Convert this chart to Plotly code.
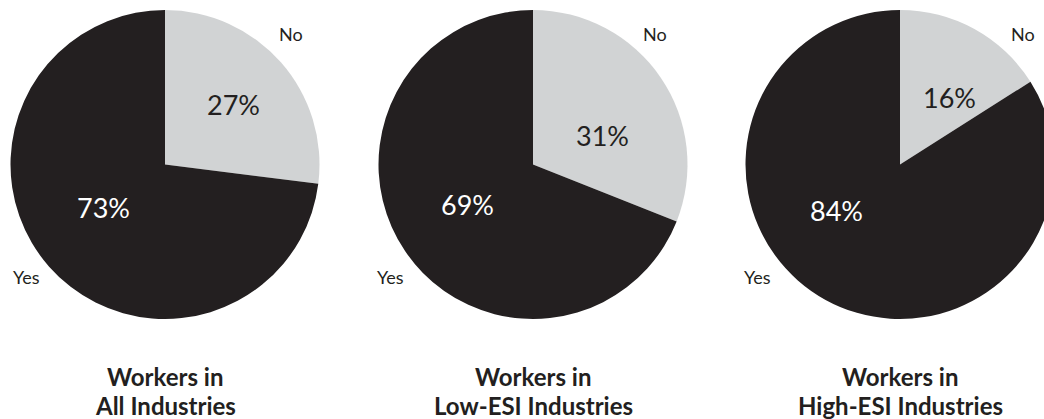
import plotly.graph_objects as go

# Share of workers answering No / Yes, by industry group
groups = ["Workers in<br>All Industries",
          "Workers in<br>Low-ESI Industries",
          "Workers in<br>High-ESI Industries"]
answers = ["No", "Yes"]
no_pct = [27, 31, 16]
yes_pct = [73, 69, 84]

# Layout constants (pixels)
W, H = 1060, 419
CX = [165, 533, 900]
CY = 164.5
R = 154.5
DARK = "#231f20"
LIGHT = "#d1d3d4"
FONT = "Lato"

# label offsets from each pie's centre: (No %, Yes %, "No", "Yes")
pct_no_off = [(68, -60), (69, -29), (49, -67)]
pct_yes_off = [(-62, 43), (-66, 40), (-64, 46)]
lab_no_off = [(126, -130), (122, -130), (123, -130)]
lab_yes_off = [(-139, 112), (-143, 112), (-143, 112)]


def px(x, y):
    return x / W, 1 - y / H


fig = go.Figure()
annotations = []
for i, title in enumerate(groups):
    cx = CX[i]
    fig.add_trace(go.Pie(
        labels=answers,
        values=[no_pct[i], yes_pct[i]],
        sort=False,
        direction="clockwise",
        rotation=0,
        marker=dict(colors=[LIGHT, DARK], line=dict(width=0)),
        textinfo="none",
        hoverinfo="label+percent",
        showlegend=False,
        domain=dict(x=[(cx - R) / W, (cx + R) / W],
                    y=[1 - (CY + R) / H, 1 - (CY - R) / H]),
    ))

    def add(text, off, size, color, bold=False):
        x, y = px(cx + off[0], CY + off[1])
        annotations.append(dict(
            text=text, x=x, y=y, xref="paper", yref="paper",
            xanchor="center", yanchor="middle", showarrow=False,
            font=dict(family=FONT, size=size, color=color,
                      weight=700 if bold else 400)))

    add(f"{no_pct[i]}%", pct_no_off[i], 27, DARK)
    add(f"{yes_pct[i]}%", pct_yes_off[i], 27, "white")
    add(answers[0], lab_no_off[i], 18, DARK)
    add(answers[1], lab_yes_off[i], 18, DARK)

    line1, line2 = title.split("<br>")
    add(line1, (0, 376 - CY), 24, DARK, bold=True)
    add(line2, (0, 405 - CY), 24, DARK, bold=True)

fig.update_layout(
    width=W, height=H,
    margin=dict(l=0, r=0, t=0, b=0),
    paper_bgcolor="white",
    plot_bgcolor="white",
    annotations=annotations,
    font=dict(family=FONT, color=DARK),
)

fig.write_html("out.html")
